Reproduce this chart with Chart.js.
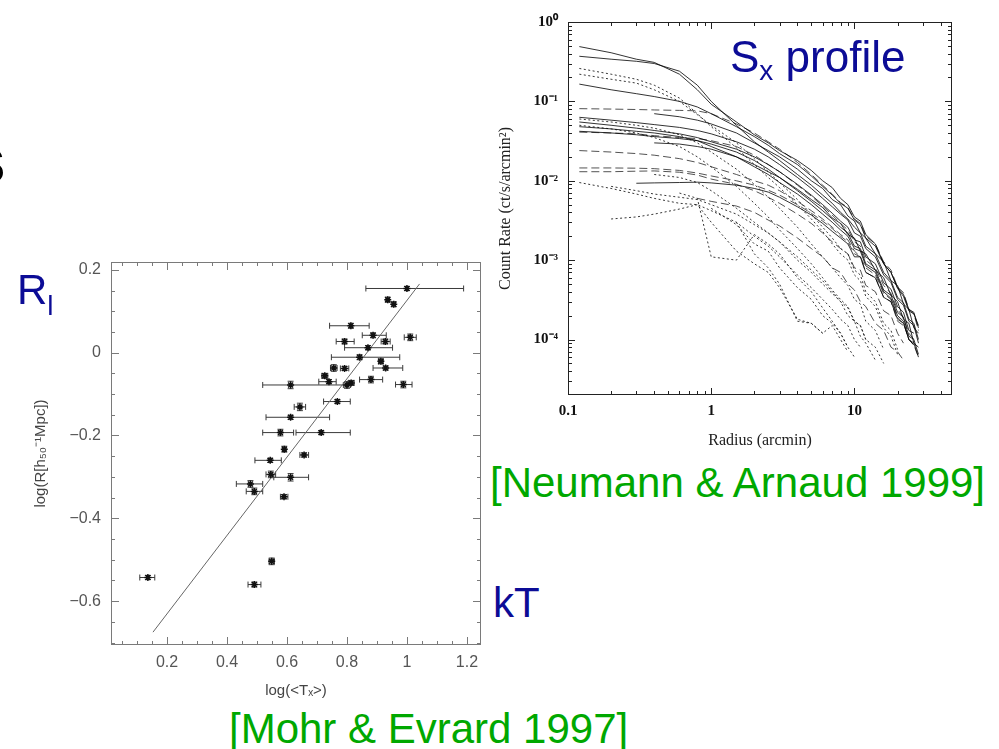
<!DOCTYPE html>
<html>
<head>
<meta charset="utf-8">
<script src="https://cdn.jsdelivr.net/npm/chart.js@4"></script>
<style>
  body { margin: 0; width: 999px; height: 749px; background: #fff; position: relative; overflow: hidden; font-family: "Liberation Sans", Arial, sans-serif; }
  .box { position: absolute; }
  .txt { position: absolute; white-space: nowrap; z-index: 2; }
  .blue { color: #0c0c96; }
  .green { color: #00a800; }
</style>
</head>
<body>
<div class="box" style="left:20px; top:255px; width:470px; height:445px"><canvas id="mohrChart"></canvas></div>
<div class="box" style="left:490px; top:0px; width:470px; height:450px"><canvas id="profileChart"></canvas></div>

<div class="txt" style="left:-31px; top:127px; font-size:66px; line-height:66px; font-weight:bold; color:#000">s</div>
<div class="txt blue" style="left:17px; top:269px; font-size:42px; line-height:42px">R<span style="font-size:28px; position:relative; top:11px">l</span></div>
<div class="txt blue" style="left:730px; top:35px; font-size:44px; line-height:44px">S<span style="font-size:28px; position:relative; top:8px">x</span> profile</div>
<div class="txt green" style="left:490px; top:462px; font-size:42px; line-height:42px">[Neumann &amp; Arnaud 1999]</div>
<div class="txt blue" style="left:493px; top:582px; font-size:42px; line-height:42px">kT</div>
<div class="txt green" style="left:229px; top:708px; font-size:42px; line-height:42px">[Mohr &amp; Evrard 1997]</div>

<script>
// ---- left panel: log R vs log <T_X> ----
const tempLog = [1.000, 0.936, 0.956, 0.813, 0.887, 1.011, 0.792, 0.928, 0.870, 0.842, 0.913, 0.929, 0.756, 0.792, 0.726, 0.740, 0.612, 0.800, 0.814, 0.880, 0.988, 0.768, 0.643, 0.612, 0.578, 0.714, 0.591, 0.657, 0.544, 0.546, 0.612, 0.478, 0.491, 0.590, 0.549, 0.136, 0.491]
const radiusLog = [0.155, 0.128, 0.117, 0.065, 0.042, 0.037, 0.027, 0.027, 0.012, -0.011, -0.021, -0.037, -0.037, -0.038, -0.056, -0.070, -0.078, -0.078, -0.073, -0.065, -0.077, -0.118, -0.131, -0.156, -0.193, -0.193, -0.233, -0.247, -0.260, -0.294, -0.301, -0.317, -0.335, -0.348, -0.504, -0.543, -0.560]
const tempLo = [0.863, 0.930, 0.950, 0.742, 0.851, 0.991, 0.764, 0.914, 0.792, 0.748, 0.905, 0.887, 0.745, 0.778, 0.716, 0.706, 0.519, 0.788, 0.804, 0.842, 0.962, 0.722, 0.624, 0.530, 0.519, 0.630, 0.585, 0.643, 0.493, 0.530, 0.556, 0.431, 0.464, 0.578, 0.540, 0.109, 0.470]
const tempHi = [1.189, 0.942, 0.962, 0.874, 0.931, 1.031, 0.824, 0.944, 0.952, 0.976, 0.921, 0.986, 0.767, 0.806, 0.736, 0.764, 0.800, 0.812, 0.824, 0.919, 1.017, 0.811, 0.662, 0.742, 0.622, 0.811, 0.597, 0.672, 0.581, 0.562, 0.672, 0.519, 0.519, 0.603, 0.558, 0.159, 0.513]
const radiusErr = [0.005, 0.006, 0.006, 0.006, 0.006, 0.008, 0.006, 0.006, 0.005, 0.006, 0.006, 0.005, 0.008, 0.005, 0.006, 0.005, 0.009, 0.008, 0.006, 0.008, 0.008, 0.005, 0.009, 0.005, 0.008, 0.005, 0.007, 0.005, 0.005, 0.008, 0.009, 0.008, 0.008, 0.005, 0.008, 0.005, 0.006]
const fitX = [0.153, 1.042]
const fitY = [-0.675, 0.166]
const mohrXLabels = [0.2, 0.4, 0.6, 0.8, 1, 1.2]
const mohrYLabels = [0.2, 0, -0.2, -0.4, -0.6]

// ---- right panel: surface brightness profiles ----
const radii = [0.12, 0.2, 0.3, 0.4, 0.6, 0.8, 1, 1.5, 2, 2.5, 3, 4, 5, 6, 7, 8, 9, 10, 11, 12, 14, 16, 18, 20, 22, 24, 26, 28]
const sol1 = [0.49, 0.41, 0.34, 0.31, 0.22, 0.14, 0.092, 0.055, 0.038, 0.030, 0.024, 0.018, 0.0135, 0.0100, 0.0082, 0.0060, 0.0050, 0.0035, 0.0031, 0.0021, 0.0016, 9.0e-4, 7.0e-4, 4.4e-4, 3.5e-4, 2.3e-4, 2.1e-4, 1.5e-4]
const sol2 = [0.37, 0.34, 0.32, 0.30, 0.24, 0.16, 0.10, 0.050, 0.031, 0.023, 0.018, 0.012, 0.0088, 0.0066, 0.0052, 0.0040, 0.0033, 0.0026, 0.0022, 0.0015, 0.0012, 7.0e-4, 5.5e-4, 3.4e-4, 2.9e-4, 1.8e-4, 1.6e-4, 1.0e-4]
const sol3 = [0.165, 0.14, 0.125, 0.115, 0.100, 0.085, 0.070, 0.048, 0.036, 0.028, 0.022, 0.016, 0.0115, 0.0085, 0.0066, 0.0052, 0.0045, 0.0032, 0.0028, 0.0019, 0.0015, 9.0e-4, 7.0e-4, 4.5e-4, 3.7e-4, 2.4e-4, 2.2e-4, 1.4e-4]
const sol4 = [0.063, 0.058, 0.054, 0.051, 0.047, 0.043, 0.039, 0.031, 0.025, 0.020, 0.016, 0.011, 0.0080, 0.0060, 0.0047, 0.0038, 0.0032, 0.0022, 0.0020, 0.0014, 0.0011, 6.5e-4, 5.2e-4, 3.2e-4, 2.7e-4, 1.7e-4, 1.5e-4, 9.0e-5]
const sol5 = [0.055, 0.050, 0.046, 0.043, 0.039, 0.035, 0.031, 0.025, 0.020, 0.016, 0.013, 0.0090, 0.0066, 0.0050, 0.0039, 0.0031, 0.0026, 0.0018, 0.0017, 0.0011, 9.0e-4, 5.2e-4, 4.3e-4, 2.6e-4, 2.2e-4, 1.3e-4, 1.2e-4, null]
const sol6 = [0.042, 0.040, 0.038, 0.036, 0.034, 0.032, 0.029, 0.023, 0.018, 0.014, 0.011, 0.0075, 0.0055, 0.0042, 0.0033, 0.0026, 0.0022, 0.0015, 0.0014, 9.0e-4, 7.5e-4, 4.2e-4, 3.6e-4, 2.2e-4, 1.9e-4, 1.1e-4, 1.0e-4, 6.5e-5]
const sol7 = [null, null, 0.0093, 0.0094, 0.0095, 0.0096, 0.0094, 0.0088, 0.0080, 0.0072, 0.0062, 0.0047, 0.0037, 0.0029, 0.0023, 0.0019, 0.0016, 0.0011, 0.0011, 7.0e-4, 6.0e-4, 3.4e-4, 3.0e-4, 1.8e-4, 1.6e-4, 1.0e-4, 9.0e-5, 6.0e-5]
const sol8 = [0.048, 0.045, 0.042, 0.040, 0.036, 0.032, 0.027, 0.020, 0.015, 0.012, 0.0095, 0.0068, 0.0050, 0.0038, 0.0030, 0.0024, 0.0020, 0.0014, 0.0013, 8.5e-4, 7.0e-4, 4.0e-4, 3.3e-4, 2.0e-4, 1.7e-4, 1.0e-4, 8.5e-5, null]
const sol9 = [null, null, null, 0.030, 0.029, 0.027, 0.025, 0.020, 0.016, 0.013, 0.011, 0.0078, 0.0058, 0.0046, 0.0034, 0.0029, 0.0021, 0.0019, 0.0013, 0.0012, 7.5e-4, 6.0e-4, 3.6e-4, 3.0e-4, 1.8e-4, 1.6e-4, 9.0e-5, 8.0e-5]
const sol10 = [null, null, null, 0.070, 0.064, 0.058, 0.052, 0.040, 0.030, 0.024, 0.020, 0.014, 0.0100, 0.0080, 0.0058, 0.0050, 0.0036, 0.0031, 0.0022, 0.0019, 0.0012, 9.5e-4, 5.5e-4, 4.8e-4, 2.8e-4, 2.4e-4, 1.4e-4, 1.2e-4]
const dsh1 = [0.081, 0.080, 0.079, 0.078, 0.077, 0.076, 0.070, 0.052, 0.040, 0.031, 0.025, 0.017, 0.012, 0.0088, 0.0068, 0.0053, 0.0046, 0.0033, 0.0029, 0.0020, 0.0016, 9.5e-4, 7.5e-4, 4.6e-4, 3.9e-4, 2.4e-4, 2.1e-4, 1.3e-4]
const dsh2 = [0.041, 0.040, 0.039, 0.037, 0.035, 0.034, 0.032, 0.027, 0.021, 0.016, 0.013, 0.0088, 0.0064, 0.0048, 0.0037, 0.0029, 0.0024, 0.0017, 0.0015, 0.0010, 8.0e-4, 4.8e-4, 3.8e-4, 2.4e-4, 1.9e-4, 1.2e-4, 1.0e-4, null]
const dsh3 = [0.024, 0.023, 0.022, 0.021, 0.019, 0.017, 0.015, 0.012, 0.010, 0.0088, 0.0075, 0.0055, 0.0042, 0.0033, 0.0026, 0.0021, 0.0018, 0.0013, 0.0011, 8.0e-4, 6.5e-4, 3.8e-4, 3.2e-4, 1.9e-4, 1.6e-4, 1.0e-4, 8.5e-5, 6.0e-5]
const dsh4 = [0.0145, 0.0145, 0.0144, 0.0142, 0.0135, 0.0125, 0.0115, 0.0100, 0.0088, 0.0076, 0.0066, 0.0050, 0.0039, 0.0031, 0.0025, 0.0020, 0.0017, 0.0012, 0.0011, 7.0e-4, 6.0e-4, 3.4e-4, 3.0e-4, 1.7e-4, 1.5e-4, null, null, null]
const dsh5 = [0.013, 0.013, 0.0132, 0.0133, 0.0128, 0.0118, 0.0105, 0.0090, 0.0075, 0.0062, 0.0052, 0.0038, 0.0029, 0.0022, 0.0017, 0.0014, 0.0012, 8.0e-4, 7.5e-4, 4.8e-4, 4.0e-4, 2.3e-4, 2.0e-4, 1.2e-4, 9.0e-5, null, null, null]
const dsh6 = [null, null, null, null, null, 0.0060, 0.0055, 0.0048, 0.0040, 0.0032, 0.0027, 0.0019, 0.0014, 0.0011, 8.0e-4, 7.0e-4, 5.0e-4, 4.2e-4, 3.0e-4, 2.6e-4, 1.6e-4, 1.3e-4, 8.0e-5, 7.0e-5, 5.5e-5, null, null, null]
const dot1 = [0.26, 0.22, 0.19, 0.16, 0.11, 0.070, 0.048, 0.026, 0.016, 0.011, 0.0082, 0.0050, 0.0033, 0.0023, 0.0016, 0.0012, 0.0010, 6.5e-4, 5.5e-4, 3.5e-4, 2.6e-4, 1.4e-4, 1.1e-4, 6.5e-5, null, null, null, null]
const dot2 = [0.22, 0.19, 0.17, 0.14, 0.10, 0.068, 0.050, 0.030, 0.019, 0.013, 0.0095, 0.0058, 0.0038, 0.0026, 0.0019, 0.0014, 0.0012, 7.5e-4, 6.5e-4, 4.0e-4, 3.0e-4, 1.6e-4, 1.3e-4, 7.5e-5, null, null, null, null]
const dot3 = [0.060, 0.055, 0.050, 0.046, 0.038, 0.030, 0.023, 0.014, 0.0090, 0.0062, 0.0045, 0.0026, 0.0016, 0.0011, 8.0e-4, 6.0e-4, 4.8e-4, 3.2e-4, 2.8e-4, 1.7e-4, 1.3e-4, 7.5e-5, null, null, null, null, null, null]
const dot4 = [0.050, 0.045, 0.040, 0.035, 0.027, 0.020, 0.015, 0.0085, 0.0052, 0.0035, 0.0024, 0.0014, 9.0e-4, 6.0e-4, 4.2e-4, 3.2e-4, 2.6e-4, 1.7e-4, 1.5e-4, 1.0e-4, null, null, null, null, null, null, null, null]
const dot5 = [0.0095, 0.0080, 0.0068, 0.0060, 0.0052, 0.0050, 0.0042, 0.0030, 0.0020, 0.0015, 0.0011, 6.5e-4, 4.5e-4, 3.2e-4, 2.4e-4, 1.8e-4, 1.5e-4, 1.0e-4, 8.0e-5, null, null, null, null, null, null, null, null, null]
const dot6 = [null, 0.0033, 0.0035, 0.0038, 0.0044, 0.0050, 0.0030, 0.0013, 9.0e-4, 7.0e-4, 4.5e-4, 1.8e-4, 1.6e-4, 1.2e-4, null, null, null, null, null, null, null, null, null, null, null, null, null, null]
const dot7 = [null, null, null, null, 0.0070, 0.0060, 0.0011, 0.0010, 0.0021, 0.0016, 0.0012, 6.0e-4, 4.0e-4, 2.5e-4, 1.7e-4, 1.2e-4, 8.0e-5, null, null, null, null, null, null, null, null, null, null, null]
const dot8 = [null, 0.0085, 0.0075, 0.0068, 0.0062, 0.0058, 0.0050, 0.0038, 0.0028, 0.0022, 0.0017, 0.0011, 7.5e-4, 5.5e-4, 4.0e-4, 3.0e-4, 2.5e-4, 1.7e-4, 1.5e-4, 1.0e-4, 8.0e-5, 5.0e-5, null, null, null, null, null, null]
const dot9 = [null, null, null, 0.012, 0.011, 0.0095, 0.0075, 0.0045, 0.0030, 0.0022, 0.0017, 0.0010, 7.0e-4, 5.0e-4, 3.8e-4, 3.0e-4, 2.0e-4, 1.7e-4, 1.1e-4, 9.0e-5, 5.5e-5, null, null, null, null, null, null, null]
const dot10 = [null, null, null, null, null, null, 0.0045, 0.0028, 0.0016, 0.0013, 8.0e-4, 4.5e-4, 3.2e-4, 2.0e-4, 1.6e-4, 1.2e-4, 8.0e-5, 6.0e-5, null, null, null, null, null, null, null, null, null, null]
const dot11 = [null, null, null, null, null, null, null, 0.0030, 0.0012, 8.0e-4, 5.0e-4, 1.7e-4, 1.6e-4, 1.2e-4, 1.5e-4, 1.0e-4, 7.0e-5, null, null, null, null, null, null, null, null, null, null, null]
const solidProfiles = [sol1, sol2, sol3, sol4, sol5, sol6, sol7, sol8, sol9, sol10]
const dashedProfiles = [dsh1, dsh2, dsh3, dsh4, dsh5, dsh6]
const dottedProfiles = [dot1, dot2, dot3, dot4, dot5, dot6, dot7, dot8, dot9, dot10, dot11]
const profileXLabels = [0.1, 1, 10]
const profileYLabels = [1, 0.1, 0.01, 0.001, 0.0001]
const profileYText = ['10⁰', '10⁻¹', '10⁻²', '10⁻³', '10⁻⁴']

function near(a, b) {
    return Math.abs(a - b) <= 1e-6 * Math.max(Math.abs(a), Math.abs(b)) + 1e-9
}
function stepTicks(lo, hi, step) {
    const out = []
    for (let k = Math.ceil(lo / step - 1e-9); k * step <= hi + 1e-9; k++) out.push({ value: +(k * step).toFixed(4) })
    return out
}
function logTicks(lo, hi) {
    const out = []
    for (let e = Math.floor(Math.log10(lo)); e <= Math.ceil(Math.log10(hi)); e++) {
        for (let m = 1; m < 10; m++) {
            const v = +(m * Math.pow(10, e)).toPrecision(6)
            if (v >= lo * 0.999 && v <= hi * 1.001) out.push({ value: v })
        }
    }
    return out
}
// keep the plot box where it is: no extra room for overhanging labels
function fixX(h) {
    return s => { s.height = h; s.paddingLeft = 0; s.paddingRight = 0 }
}
function fixY(w) {
    return s => { s.width = w; s.paddingTop = 0; s.paddingBottom = 0 }
}

// frame with inward tick marks on all four sides
const frameTicks = {
    id: 'frameTicks',
    afterDraw(chart, args, opts) {
        const { ctx, chartArea: a } = chart
        const sx = chart.scales.x, sy = chart.scales.y
        ctx.save()
        ctx.strokeStyle = opts.color
        ctx.lineWidth = 1
        ctx.strokeRect(a.left + 0.5, a.top + 0.5, a.right - a.left - 1, a.bottom - a.top - 1)
        ctx.beginPath()
        sx.ticks.forEach(t => {
            const px = Math.round(sx.getPixelForValue(t.value)) + 0.5
            if (px < a.left + 1 || px > a.right - 1) return
            const len = opts.majorX.some(m => near(m, t.value)) ? opts.major : opts.minor
            ctx.moveTo(px, a.bottom); ctx.lineTo(px, a.bottom - len)
            ctx.moveTo(px, a.top); ctx.lineTo(px, a.top + len)
        })
        sy.ticks.forEach(t => {
            const py = Math.round(sy.getPixelForValue(t.value)) + 0.5
            if (py < a.top + 1 || py > a.bottom - 1) return
            const len = opts.majorY.some(m => near(m, t.value)) ? opts.major : opts.minor
            ctx.moveTo(a.left, py); ctx.lineTo(a.left + len, py)
            ctx.moveTo(a.right, py); ctx.lineTo(a.right - len, py)
        })
        ctx.stroke()
        ctx.restore()
    }
}

// horizontal and vertical error bars for the cluster points
const errorBars = {
    id: 'errorBars',
    beforeDatasetsDraw(chart) {
        const { ctx } = chart
        const sx = chart.scales.x, sy = chart.scales.y
        ctx.save()
        ctx.strokeStyle = '#3a3a3a'
        ctx.lineWidth = 1
        ctx.beginPath()
        tempLog.forEach((x, i) => {
            const py = sy.getPixelForValue(radiusLog[i])
            const x0 = sx.getPixelForValue(tempLo[i]), x1 = sx.getPixelForValue(tempHi[i])
            ctx.moveTo(x0, py); ctx.lineTo(x1, py)
            ctx.moveTo(x0, py - 3); ctx.lineTo(x0, py + 3)
            ctx.moveTo(x1, py - 3); ctx.lineTo(x1, py + 3)
            const px = sx.getPixelForValue(x)
            const y0 = sy.getPixelForValue(radiusLog[i] - radiusErr[i]), y1 = sy.getPixelForValue(radiusLog[i] + radiusErr[i])
            ctx.moveTo(px, y0); ctx.lineTo(px, y1)
            ctx.moveTo(px - 3, y0); ctx.lineTo(px + 3, y0)
            ctx.moveTo(px - 3, y1); ctx.lineTo(px + 3, y1)
        })
        ctx.stroke()
        ctx.restore()
    }
}

function render_mohr() {
    const sansTick = { family: 'Liberation Sans', size: 16 }
    const config = {
        type: 'scatter',
        data: {
            datasets: [
                {
                    data: tempLog.map((x, i) => ({ x: x, y: radiusLog[i] })),
                    pointStyle: 'star',
                    pointRadius: 3.5,
                    borderColor: '#111',
                    backgroundColor: '#111',
                    borderWidth: 1.5,
                },
                {
                    data: fitX.map((x, i) => ({ x: x, y: fitY[i] })),
                    showLine: true,
                    pointRadius: 0,
                    borderColor: '#666',
                    borderWidth: 1,
                },
            ],
        },
        options: {
            responsive: true,
            maintainAspectRatio: false,
            animation: false,
            layout: { padding: { top: 7, right: 9, left: 0, bottom: 0 } },
            plugins: {
                legend: { display: false },
                tooltip: { enabled: false },
                frameTicks: { color: '#7a7a7a', major: 8, minor: 4, majorX: mohrXLabels, majorY: mohrYLabels },
            },
            scales: {
                x: {
                    type: 'linear',
                    min: 0.013,
                    max: 1.247,
                    grid: { display: false, drawTicks: false },
                    border: { display: false },
                    afterBuildTicks: s => { s.ticks = stepTicks(s.min, s.max, 0.05) },
                    afterFit: fixX(55),
                    ticks: {
                        autoSkip: false,
                        maxRotation: 0,
                        padding: 8,
                        color: '#555',
                        font: sansTick,
                        callback: v => mohrXLabels.some(m => near(m, v)) ? String(+v.toFixed(1)) : '',
                    },
                    title: { display: true, text: 'log(<Tₓ>)', color: '#444', font: { family: 'Liberation Sans', size: 15 }, padding: { top: 1, bottom: 0 } },
                },
                y: {
                    type: 'linear',
                    min: -0.706,
                    max: 0.219,
                    grid: { display: false, drawTicks: false },
                    border: { display: false },
                    afterBuildTicks: s => { s.ticks = stepTicks(s.min, s.max, 0.05) },
                    afterFit: fixY(91),
                    ticks: {
                        autoSkip: false,
                        padding: 10,
                        color: '#555',
                        font: sansTick,
                        callback: v => {
                            if (!mohrYLabels.some(m => near(m, v))) return ''
                            const t = String(Math.abs(+v.toFixed(1)))
                            return v < -1e-9 ? '−' + t : t
                        },
                    },
                    title: { display: true, text: 'log(R[h₅₀⁻¹Mpc])', color: '#444', font: { family: 'Liberation Sans', size: 15 }, padding: { top: 12, bottom: 0 } },
                },
            },
        },
        plugins: [errorBars, frameTicks],
    }
    new Chart(document.getElementById('mohrChart'), config)
}

function render_profiles() {
    const toPoints = p => radii.map((r, i) => ({ x: r, y: p[i] })).filter(d => d.y !== null)
    const datasets = []
    solidProfiles.forEach(p => datasets.push({ data: toPoints(p), borderColor: 'rgba(0,0,0,0.8)', borderWidth: 1 }))
    dashedProfiles.forEach(p => datasets.push({ data: toPoints(p), borderColor: 'rgba(40,40,40,0.8)', borderWidth: 1, borderDash: [8, 4] }))
    dottedProfiles.forEach(p => datasets.push({ data: toPoints(p), borderColor: 'rgba(20,20,20,0.85)', borderWidth: 1, borderDash: [2, 2.5] }))
    datasets.forEach(d => { d.showLine = true; d.pointRadius = 0; d.tension = 0 })
    const serif = { family: 'Liberation Serif', size: 15, weight: 'bold' }
    const config = {
        type: 'scatter',
        data: { datasets: datasets },
        options: {
            responsive: true,
            maintainAspectRatio: false,
            animation: false,
            layout: { padding: { top: 22, right: 8, left: 0, bottom: 0 } },
            plugins: {
                legend: { display: false },
                tooltip: { enabled: false },
                frameTicks: { color: '#222', major: 7, minor: 4, majorX: profileXLabels, majorY: profileYLabels },
            },
            scales: {
                x: {
                    type: 'logarithmic',
                    min: 0.1,
                    max: 48,
                    grid: { display: false, drawTicks: false },
                    border: { display: false },
                    afterBuildTicks: s => { s.ticks = logTicks(s.min, s.max) },
                    afterFit: fixX(55),
                    ticks: {
                        autoSkip: false,
                        maxRotation: 0,
                        padding: 7,
                        color: '#111',
                        font: serif,
                        callback: v => profileXLabels.some(m => near(m, v)) ? String(v) : '',
                    },
                    title: { display: true, text: 'Radius (arcmin)', color: '#222', font: { family: 'Liberation Serif', size: 16 }, padding: { top: 3, bottom: 0 } },
                },
                y: {
                    type: 'logarithmic',
                    min: 2e-5,
                    max: 1,
                    grid: { display: false, drawTicks: false },
                    border: { display: false },
                    afterBuildTicks: s => { s.ticks = logTicks(s.min, s.max) },
                    afterFit: fixY(78),
                    ticks: {
                        autoSkip: false,
                        padding: 10,
                        color: '#111',
                        font: serif,
                        callback: v => {
                            const k = profileYLabels.findIndex(m => near(m, v))
                            return k < 0 ? '' : profileYText[k]
                        },
                    },
                    title: { display: true, text: 'Count Rate (ct/s/arcmin²)', color: '#222', font: { family: 'Liberation Serif', size: 16 }, padding: { top: 6, bottom: 0 } },
                },
            },
        },
        plugins: [frameTicks],
    }
    new Chart(document.getElementById('profileChart'), config)
}

document.addEventListener('DOMContentLoaded', () => {
    render_mohr()
    render_profiles()
})
</script>
</body>
</html>
